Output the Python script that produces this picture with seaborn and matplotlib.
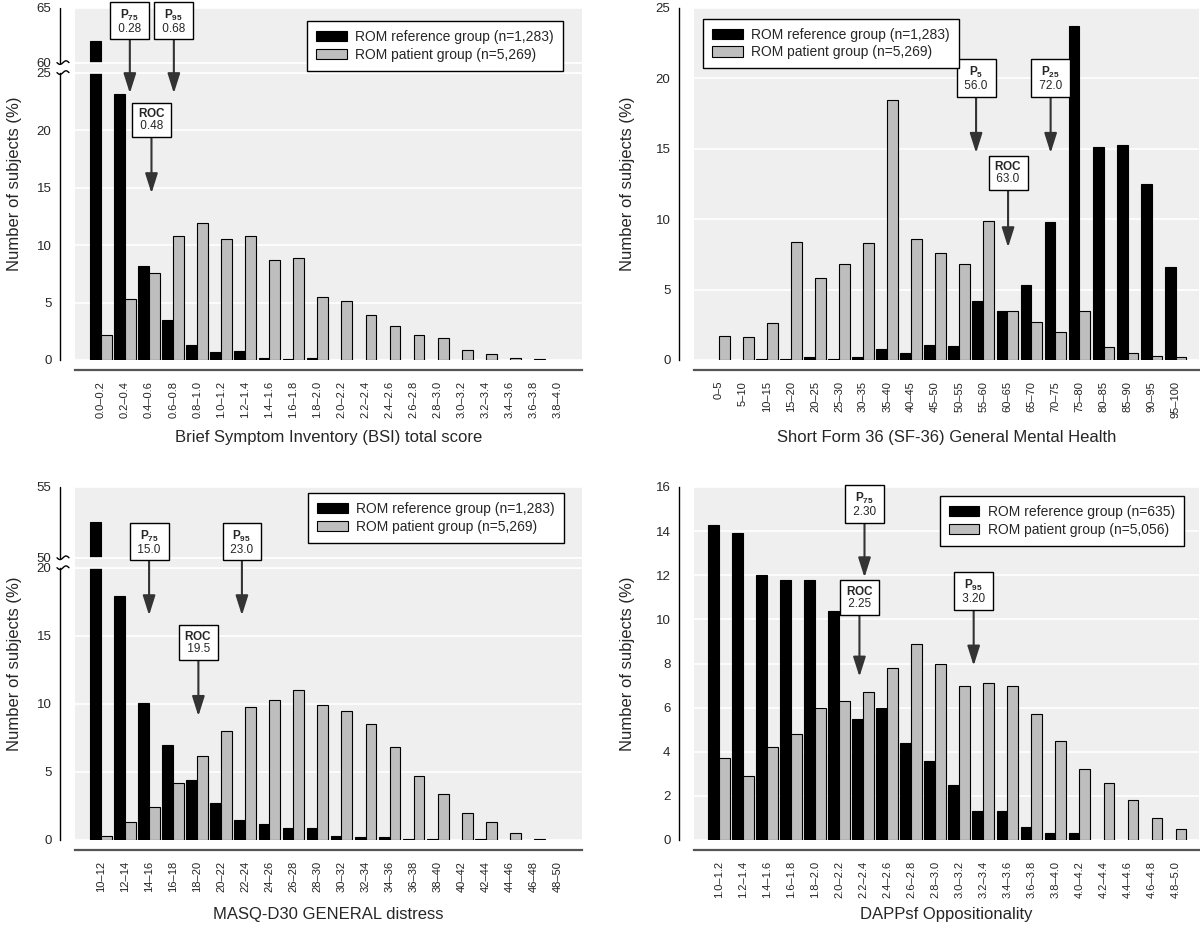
import numpy as np
import pandas as pd
import matplotlib
matplotlib.use("Agg")
import matplotlib.pyplot as plt
import matplotlib.transforms as mtransforms
from matplotlib.patches import Patch
import seaborn as sns

# ---- data (percent of subjects per score bin) ----
bsi_bins = ["0.0–0.2", "0.2–0.4", "0.4–0.6", "0.6–0.8", "0.8–1.0", "1.0–1.2", "1.2–1.4",
            "1.4–1.6", "1.6–1.8", "1.8–2.0", "2.0–2.2", "2.2–2.4", "2.4–2.6", "2.6–2.8",
            "2.8–3.0", "3.0–3.2", "3.2–3.4", "3.4–3.6", "3.6–3.8", "3.8–4.0"]
bsi_ref = [62.0, 23.1, 8.2, 3.5, 1.3, 0.7, 0.8, 0.2, 0.1, 0.2, 0, 0, 0, 0, 0, 0, 0, 0, 0, 0]
bsi_pat = [2.2, 5.3, 7.6, 10.8, 11.9, 10.5, 10.8, 8.7, 8.9, 5.5, 5.1, 3.9, 3.0, 2.2, 1.9, 0.9, 0.5, 0.2, 0.1, 0]

sf_bins = ["0–5", "5–10", "10–15", "15–20", "20–25", "25–30", "30–35", "35–40", "40–45", "45–50",
           "50–55", "55–60", "60–65", "65–70", "70–75", "75–80", "80–85", "85–90", "90–95", "95–100"]
sf_ref = [0, 0, 0.1, 0.1, 0.2, 0.1, 0.2, 0.8, 0.5, 1.1, 1.0, 4.2, 3.5, 5.3, 9.8, 23.7, 15.1, 15.3, 12.5, 6.6]
sf_pat = [1.7, 1.6, 2.6, 8.4, 5.8, 6.8, 8.3, 18.5, 8.6, 7.6, 6.8, 9.9, 3.5, 2.7, 2.0, 3.5, 0.9, 0.5, 0.3, 0.2]

masq_bins = ["10–12", "12–14", "14–16", "16–18", "18–20", "20–22", "22–24", "24–26", "26–28", "28–30",
             "30–32", "32–34", "34–36", "36–38", "38–40", "40–42", "42–44", "44–46", "46–48", "48–50"]
masq_ref = [52.5, 17.9, 10.1, 7.0, 4.4, 2.7, 1.5, 1.2, 0.9, 0.9, 0.3, 0.2, 0.2, 0.1, 0.1, 0, 0.1, 0, 0, 0]
masq_pat = [0.3, 1.3, 2.4, 4.2, 6.2, 8.0, 9.8, 10.3, 11.0, 9.9, 9.5, 8.5, 6.8, 4.7, 3.4, 2.0, 1.3, 0.5, 0.1, 0]

dapp_bins = ["1.0–1.2", "1.2–1.4", "1.4–1.6", "1.6–1.8", "1.8–2.0", "2.0–2.2", "2.2–2.4", "2.4–2.6",
             "2.6–2.8", "2.8–3.0", "3.0–3.2", "3.2–3.4", "3.4–3.6", "3.6–3.8", "3.8–4.0", "4.0–4.2",
             "4.2–4.4", "4.4–4.6", "4.6–4.8", "4.8–5.0"]
dapp_ref = [14.3, 13.9, 12.0, 11.8, 11.8, 10.4, 5.5, 6.0, 4.4, 3.6, 2.5, 1.3, 1.3, 0.6, 0.3, 0.3, 0, 0, 0, 0]
dapp_pat = [3.7, 2.9, 4.2, 4.8, 6.0, 6.3, 6.7, 7.8, 8.9, 8.0, 7.0, 7.1, 7.0, 5.7, 4.5, 3.2, 2.6, 1.8, 1.0, 0.5]

ref_labels = ["ROM reference group (n=1,283)", "ROM reference group (n=1,283)",
              "ROM reference group (n=1,283)", "ROM reference group (n=635)"]
pat_labels = ["ROM patient group (n=5,269)", "ROM patient group (n=5,269)",
              "ROM patient group (n=5,269)", "ROM patient group (n=5,056)"]
x_titles = ["Brief Symptom Inventory (BSI) total score", "Short Form 36 (SF-36) General Mental Health",
            "MASQ-D30 GENERAL distress", "DAPPsf Oppositionality"]

# cut-off callouts: (name, subscript, value text, x position in bins, box y, arrow tip y)
bsi_cut = [("P", "75", "0.28", 1.2, 63.8, 23.2), ("P", "95", "0.68", 3.03, 63.8, 23.2),
           ("ROC", "", "0.48", 2.1, 20.9, 14.5)]
sf_cut = [("P", "5", "56.0", 10.7, 20.0, 14.7), ("P", "25", "72.0", 13.8, 20.0, 14.7),
          ("ROC", "", "63.0", 12.03, 13.3, 8.0)]
masq_cut = [("P", "75", "15.0", 2.0, 51.1, 16.5), ("P", "95", "23.0", 5.86, 51.1, 16.5),
            ("ROC", "", "19.5", 4.05, 14.5, 9.1)]
dapp_cut = [("P", "75", "2.30", 6.06, 15.2, 11.9), ("ROC", "", "2.25", 5.85, 10.99, 7.4),
            ("P", "95", "3.20", 10.6, 11.26, 7.9)]

BG = "#efefef"
GREY = "#bebebe"
SPINE_OFF_PX = 15

sns.set_style("white")
plt.rcParams["font.family"] = ["Liberation Sans", "DejaVu Sans"]
plt.rcParams["mathtext.fontset"] = "custom"
plt.rcParams["mathtext.rm"] = "Liberation Sans"
plt.rcParams["mathtext.bf"] = "Liberation Sans:bold"

W, H = 1200, 931
fig = plt.figure(figsize=(W / 100, H / 100), dpi=100)


def break_scale(lo_top, hi_bot, gap, r):
    # piecewise linear y scale: squeeze (lo_top, hi_bot) into a small gap
    def fwd(y):
        y = np.asarray(y, dtype=float)
        return np.where(y <= lo_top, y,
                        np.where(y < hi_bot, lo_top + (y - lo_top) * gap / (hi_bot - lo_top),
                                 lo_top + gap + (y - hi_bot) * r))

    def inv(t):
        t = np.asarray(t, dtype=float)
        return np.where(t <= lo_top, t,
                        np.where(t < lo_top + gap, lo_top + (t - lo_top) * (hi_bot - lo_top) / gap,
                                 hi_bot + (t - lo_top - gap) / r))
    return fwd, inv


def panel(rect, bins, ref, pat, ref_lab, pat_lab, xtitle, yticks, ytop, cuts,
          xlim, ylab_x, xlab_y, leg_loc, leg_anchor, brk=None):
    left, top, w, h = rect
    ax = fig.add_axes([left / W, 1 - (top + h) / H, w / W, h / H])
    df = pd.DataFrame({
        "bin": bins + bins,
        "group": [ref_lab] * len(bins) + [pat_lab] * len(bins),
        "pct": ref + pat,
    })
    sns.barplot(data=df, x="bin", y="pct", hue="group", order=bins, hue_order=[ref_lab, pat_lab],
                palette=["black", GREY], width=0.9, edgecolor="black", linewidth=0.8,
                errorbar=None, legend=False, ax=ax)
    for p in ax.patches:
        if p.get_height() == 0:
            p.set_visible(False)

    ax.set_facecolor(BG)
    ax.set_axisbelow(True)
    ax.yaxis.grid(True, color="white", lw=1.2)
    ax.xaxis.grid(False)

    for s in ("top", "right"):
        ax.spines[s].set_visible(False)
    ax.spines["left"].set_position(("outward", SPINE_OFF_PX * 0.72))
    ax.spines["left"].set_linewidth(1.0)
    ax.spines["left"].set_color("black")
    ax.spines["bottom"].set_position(("outward", 10 * 0.72))
    ax.spines["bottom"].set_linewidth(1.6)
    ax.spines["bottom"].set_color("#555555")

    ax.tick_params(axis="x", length=4.3, width=1.0, color="#333333", pad=3.6,
                   labelsize=8, labelrotation=90, labelcolor="#222222")
    ax.tick_params(axis="y", length=3.6, width=1.0, color="black", pad=2.5, labelsize=9.5)

    if brk is not None:
        lo_top, hi_bot, gap, r = brk
        fwd, inv = break_scale(lo_top, hi_bot, gap, r)
        ax.set_yscale("function", functions=(fwd, inv))
        # hide bar parts inside the break and redraw the two white lines
        ax.axhspan(lo_top, hi_bot, facecolor=BG, edgecolor="none", zorder=3)
        for yb in (lo_top, hi_bot):
            ax.axhline(yb, color="white", lw=1.2, zorder=3.5)
        ax.spines["left"].set_bounds(0, lo_top)
        trans = mtransforms.blended_transform_factory(ax.transAxes, ax.transData) + \
            mtransforms.ScaledTranslation(-SPINE_OFF_PX / 100, 0, fig.dpi_scale_trans)
        ax.plot([0, 0], [hi_bot, ytop], transform=trans, color="black", lw=1.0, clip_on=False)
        ppu = h / float(fwd(ytop))
        xs = np.linspace(-3, 9, 30)
        wave = 1.8 * np.sin(2 * np.pi * (xs + 3) / 12)
        for yb in (lo_top, hi_bot):
            ys = inv(fwd(yb) - wave / ppu)
            ax.plot(xs / w, ys, transform=trans, color="black", lw=1.0, clip_on=False)

    ax.set_yticks(yticks)
    ax.set_yticklabels([str(t) for t in yticks])
    if brk is not None:
        for t, v in zip(ax.yaxis.get_major_ticks(), yticks):
            if v in (brk[0], brk[1]):
                t.tick1line.set_visible(False)

    for name, sub, val, xpos, ybox, ytip in cuts:
        head = r"$\mathbf{%s_{%s}}$" % (name, sub) if sub else r"$\mathbf{%s}$" % name
        ax.annotate(head + "\n " + val + " ", xy=(xpos, ytip), xytext=(xpos, ybox),
                    ha="center", va="center", fontsize=8.5, linespacing=1.0, zorder=6,
                    annotation_clip=False,
                    bbox=dict(boxstyle="square,pad=0.4", fc="white", ec="black", lw=1.0),
                    arrowprops=dict(arrowstyle="-|>,head_length=1.2,head_width=0.38",
                                    mutation_scale=10, color="#333333", lw=1.5,
                                    shrinkA=0, shrinkB=0))

    handles = [Patch(facecolor="black", edgecolor="black", lw=0.8),
               Patch(facecolor=GREY, edgecolor="black", lw=0.8)]
    leg = ax.legend(handles, [ref_lab, pat_lab], loc=leg_loc, bbox_to_anchor=leg_anchor,
                    borderaxespad=0, frameon=True, fancybox=False, framealpha=1,
                    edgecolor="black", fontsize=10, handlelength=2.2, handleheight=0.75,
                    handletextpad=0.6, borderpad=0.65, labelspacing=0.25)
    leg.get_frame().set_linewidth(1.0)
    leg.set_zorder(7)

    ax.set_xlabel(xtitle, fontsize=12, va="center")
    ax.xaxis.set_label_coords(0.5, xlab_y)
    ax.set_ylabel("Number of subjects (%)", fontsize=12, va="center")
    ax.yaxis.set_label_coords(ylab_x, 0.5)

    ax.set_xlim(*xlim)
    ax.set_ylim(0, ytop)
    return ax


panel((75, 8, 507, 352), bsi_bins, bsi_ref, bsi_pat, ref_labels[0], pat_labels[0], x_titles[0],
      [0, 5, 10, 15, 20, 25, 60, 65], 65, bsi_cut, (-1.08, 20.0), -0.12, -0.219,
      "upper right", (0.9625, 0.963), brk=(25, 60, 0.87, 0.95))
panel((694, 8, 505, 352), sf_bins, sf_ref, sf_pat, ref_labels[1], pat_labels[1], x_titles[1],
      [0, 5, 10, 15, 20, 25], 25, sf_cut, (-1.03, 19.97), -0.131, -0.219,
      "upper left", (0.018, 0.969))
panel((75, 487, 507, 353), masq_bins, masq_ref, masq_pat, ref_labels[2], pat_labels[2], x_titles[2],
      [0, 5, 10, 15, 20, 50, 55], 55, masq_cut, (-1.08, 20.0), -0.12, -0.212,
      "upper right", (0.9645, 0.983), brk=(20, 50, 0.73, 1.04))
panel((694, 487, 505, 353), dapp_bins, dapp_ref, dapp_pat, ref_labels[3], pat_labels[3], x_titles[3],
      [0, 2, 4, 6, 8, 10, 12, 14, 16], 16, dapp_cut, (-1.03, 19.97), -0.131, -0.212,
      "upper right", (0.970, 0.9745))

fig.savefig("out.png", dpi=100, facecolor="white")
